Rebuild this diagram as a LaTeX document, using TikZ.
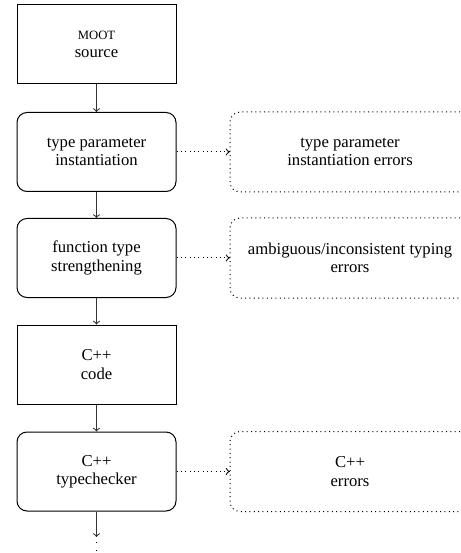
\documentclass[tikz,border=0pt]{standalone}
\usepackage{fontspec}
\setmainfont{Liberation Serif}
\usetikzlibrary{arrows}
\newcommand{\fakesc}[1]{{\fontsize{7.6}{9}\selectfont #1}}
\begin{document}
\begin{tikzpicture}[x=0.6pt,y=-0.6pt,
  every node/.style={font=\fontsize{10}{11}\selectfont, align=center},
  plainbox/.style={draw, line width=0.6pt, minimum width=95.4pt, minimum height=47.4pt},
  stagebox/.style={plainbox, rounded corners=6pt},
  errbox/.style={draw, dotted, line width=0.6pt, rounded corners=6pt, minimum width=144pt, minimum height=48pt},
  flow/.style={->, line width=0.6pt, draw=black!80},
  errflow/.style={->, dotted, line width=0.6pt}]
  \useasboundingbox (0,0) rectangle (460,553);

  % main pipeline
  \node[plainbox] (src)  at (96.5,44.5)  {\fakesc{MOOT}\\source};
  \node[stagebox] (inst) at (96.5,152)   {type parameter\\instantiation};
  \node[stagebox] (str)  at (96.5,258)   {function type\\strengthening};
  \node[plainbox] (code) at (96.5,364.5) {C++\\code};
  \node[stagebox] (tc)   at (96.5,471.5) {C++\\typechecker};
  \coordinate (cont) at (96.5,537);
  \coordinate (dots) at (96.5,542);
  \coordinate (dotsend) at (96.5,562);

  % error outputs
  \node[errbox] (einst) at (350,152)   {type parameter\\instantiation errors};
  \node[errbox] (estr)  at (350,258)   {ambiguous/inconsistent typing\\errors};
  \node[errbox] (etc)   at (350,471.5) {C++\\errors};

  \draw[flow] (src) -- (inst);
  \draw[flow] (inst) -- (str);
  \draw[flow] (str) -- (code);
  \draw[flow] (code) -- (tc);
  \draw[flow] (tc) -- (cont);
  \draw[line width=0.6pt, dash pattern=on 0.6pt off 4.2pt] (dots) -- (dotsend);

  \draw[errflow] (inst) -- (einst);
  \draw[errflow] (str) -- (estr);
  \draw[errflow] (tc) -- (etc);
\end{tikzpicture}
\end{document}
